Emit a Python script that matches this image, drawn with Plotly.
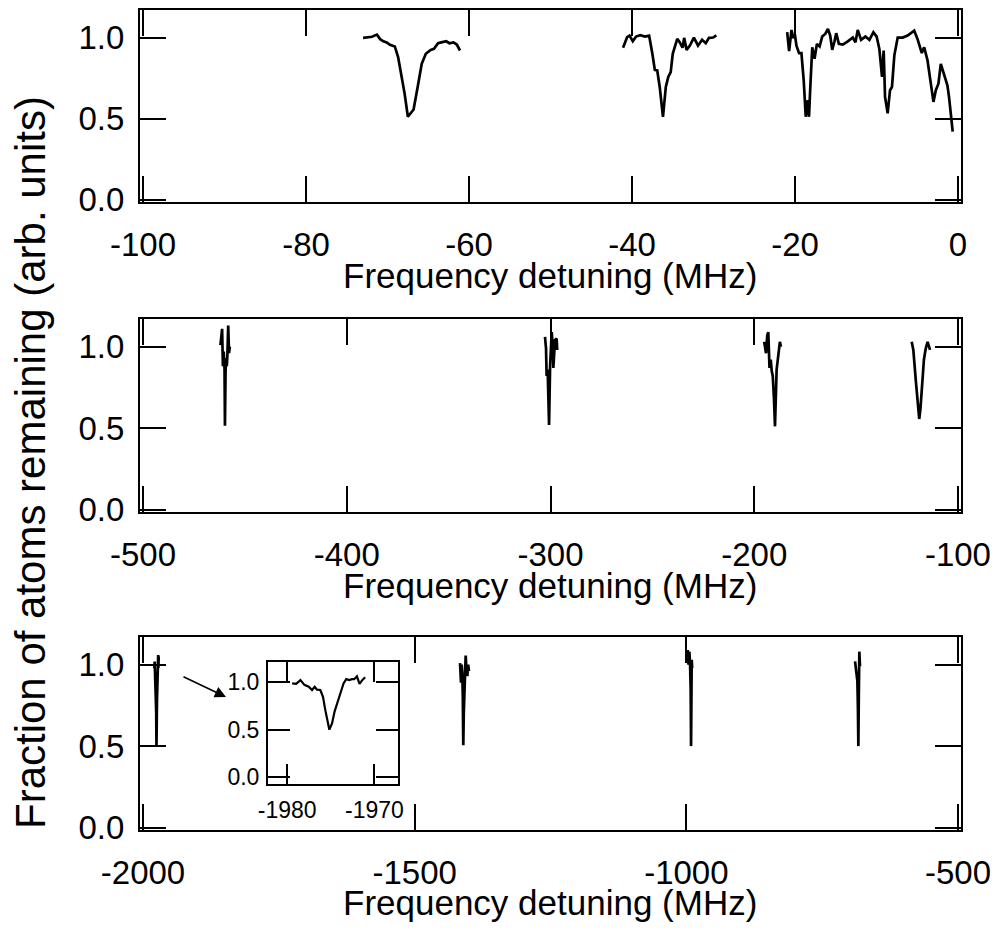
import plotly.graph_objects as go

# ---------------- data ----------------
# Top panel scans (MHz, fraction)
scanA_x = [-73.0, -72.5, -71.9, -71.3, -70.9, -70.5, -70.1, -69.7, -69.1, -68.7, -68.3, -67.9, -67.5,
           -67.1, -66.8, -66.3, -65.8, -65.3, -64.7, -64.3, -63.8, -63.4, -62.8, -62.4, -61.9, -61.5, -61.1]
scanA_y = [0.998, 1.0, 1.005, 1.018, 0.99, 0.977, 0.97, 0.955, 0.945, 0.88, 0.777, 0.654, 0.511,
           0.536, 0.556, 0.695, 0.838, 0.9, 0.924, 0.93, 0.965, 0.97, 0.977, 0.965, 0.97, 0.957, 0.92]

scanB_x = [-41.1, -40.6, -40.3, -39.9, -39.5, -39.0, -38.4, -37.9, -37.5, -37.2, -36.9, -36.6, -36.2,
           -35.85, -35.55, -35.25, -35.0, -34.75, -34.45, -34.15, -33.8, -33.6, -33.3, -32.9, -32.4,
           -31.9, -31.4, -30.95, -30.55, -30.05, -29.65]
scanB_y = [0.937, 1.002, 1.012, 0.977, 1.006, 1.014, 1.006, 1.012, 0.9, 0.80, 0.797, 0.695, 0.511,
           0.695, 0.757, 0.787, 0.9, 0.94, 0.992, 0.971, 0.937, 0.998, 0.924, 0.95, 1.0,
           0.95, 0.986, 0.965, 0.998, 1.0, 1.014]

scanC_x = [-20.96, -20.72, -20.43, -20.23, -20.02, -19.82, -19.5, -19.21, -18.93, -18.68, -18.52, -18.28,
           -18.12, -17.88, -17.6, -17.31, -16.98, -16.66, -16.29, -15.96, -15.68, -15.43, -15.15, -14.94,
           -14.62, -14.13, -13.52, -12.91, -12.58, -12.3, -11.89, -11.36, -10.87, -10.38, -9.98, -9.65,
           -9.32, -9.12, -8.95, -8.63, -8.34, -8.1, -7.81, -7.4, -6.79, -6.18, -5.37, -4.96, -4.44, -4.15,
           -3.74, -3.33, -3.01, -2.72, -2.4, -2.11, -1.71, -1.3, -1.1, -0.89, -0.65]
scanC_y = [1.033, 0.916, 1.047, 0.998, 1.02, 0.95, 0.904, 0.904, 0.736, 0.511, 0.613, 0.511,
           0.695, 0.94, 0.869, 0.961, 0.945, 1.006, 1.022, 1.053, 1.012, 0.924, 0.977, 1.027,
           0.961, 0.957, 0.977, 1.0, 0.971, 1.047, 0.986, 1.006, 0.986, 1.033, 1.006, 0.93,
           0.757, 0.92, 0.634, 0.532, 0.675, 0.695, 0.89, 1.0, 1.0, 1.012, 1.043, 0.99, 0.904, 0.94,
           0.86, 0.715, 0.603, 0.675, 0.715, 0.838, 0.777, 0.705, 0.634, 0.532, 0.419]

# Middle panel scans
scanD_x = [-462.0, -461.6, -461.2, -460.8, -460.4, -460.0, -459.8, -459.5, -459.2, -458.9, -458.6,
           -458.2, -457.8, -457.4]
scanD_y = [1.01, 1.07, 1.11, 0.88, 0.97, 0.86, 0.515, 0.85, 0.93, 0.88, 0.95, 1.13, 0.96, 1.00]

scanE_x = [-302.7, -302.2, -301.9, -301.4, -300.7, -300.2, -299.4, -298.9, -298.6, -297.8, -297.0, -296.7]
scanE_y = [1.06, 0.99, 0.82, 0.86, 0.52, 0.88, 1.09, 1.00, 0.87, 1.04, 1.05, 0.98]

scanF_x = [-195.1, -194.6, -194.2, -193.6, -193.1, -192.5, -191.9, -191.4, -190.9, -190.3, -189.8,
           -189.0, -188.2, -187.4, -186.9]
scanF_y = [1.03, 1.0, 0.96, 1.07, 1.09, 0.87, 0.92, 0.85, 0.82, 0.68, 0.511, 0.86, 0.96, 1.03, 1.0]

scanG_x = [-122.7, -121.9, -120.6, -119.8, -119.0, -118.4, -117.8, -116.7, -115.8, -114.9, -113.7]
scanG_y = [1.03, 0.98, 0.78, 0.64, 0.556, 0.62, 0.72, 0.92, 0.99, 1.03, 0.98]

# Bottom panel scans (scanH is also shown enlarged in the inset)
scanH_x = [-1979.43, -1978.97, -1978.48, -1978.03, -1977.53, -1977.15, -1976.85, -1976.58, -1976.2,
           -1975.9, -1975.63, -1975.37, -1975.17, -1974.86, -1974.57, -1974.22, -1973.92, -1973.54,
           -1973.23, -1972.89, -1972.58, -1972.32, -1972.01, -1971.71, -1971.4, -1971.06]
scanH_y = [0.986, 0.98, 1.02, 0.97, 0.95, 0.916, 0.95, 0.92, 0.916, 0.845, 0.705, 0.565, 0.50,
           0.565, 0.69, 0.79, 0.88, 0.986, 1.03, 1.02, 1.03, 1.03, 1.06, 0.98, 1.02, 1.05]

scanI_x = [-1416.5, -1415.5, -1414.7, -1413.5, -1412.3, -1411.4, -1410.5, -1409.6, -1408.6, -1407.4,
           -1406.1, -1405.0, -1403.1, -1401.5, -1400.0]
scanI_y = [1.01, 0.95, 0.89, 1.0, 0.95, 0.80, 0.506, 0.70, 0.78, 0.95, 1.056, 0.99, 0.93, 1.0, 0.96]

scanJ_x = [-999.3, -997.5, -996.0, -994.5, -993.2, -992.0, -991.3, -990.6, -990.1, -989.3]
scanJ_y = [1.01, 1.09, 1.0, 1.08, 1.01, 0.85, 0.50, 0.80, 1.03, 0.98]

scanK_x = [-689.5, -688.0, -686.4, -685.2, -684.3, -683.4, -682.6, -681.6, -680.4]
scanK_y = [1.02, 0.97, 0.95, 0.90, 0.75, 0.50, 0.80, 1.08, 0.99]

top_ticks = [-100, -80, -60, -40, -20, 0]
top_ticklabels = ["-100", "-80", "-60", "-40", "-20", "0"]
mid_ticks = [-500, -400, -300, -200, -100]
mid_ticklabels = ["-500", "-400", "-300", "-200", "-100"]
bot_ticks = [-2000, -1500, -1000, -500]
bot_ticklabels = ["-2000", "-1500", "-1000", "-500"]
inset_ticks = [-1980, -1970]
inset_ticklabels = ["-1980", "-1970"]
y_ticks = [0.0, 0.5, 1.0]
y_ticklabels = ["0.0", "0.5", "1.0"]

x_title = "Frequency detuning (MHz)"
y_title = "Fraction of atoms remaining (arb. units)"

# ---------------- figure ----------------
W, H = 1004, 937
FONT = "Liberation Sans, Arial, Helvetica, sans-serif"


def dx(p):
    return p / W


def dy(p):
    return 1 - p / H


fig = go.Figure()

panels = [
    ("x", "y", [(scanA_x, scanA_y), (scanB_x, scanB_y), (scanC_x, scanC_y)]),
    ("x2", "y2", [(scanD_x, scanD_y), (scanE_x, scanE_y), (scanF_x, scanF_y), (scanG_x, scanG_y)]),
    ("x3", "y3", [(scanH_x, scanH_y), (scanI_x, scanI_y), (scanJ_x, scanJ_y), (scanK_x, scanK_y)]),
]
for xa, ya, scans in panels:
    for sx, sy in scans:
        fig.add_trace(go.Scatter(x=sx, y=sy, mode="lines", xaxis=xa, yaxis=ya,
                                 line=dict(color="black", width=2.7),
                                 showlegend=False, hoverinfo="skip"))

fig.add_trace(go.Scatter(x=scanH_x, y=scanH_y, mode="lines", xaxis="x4", yaxis="y4",
                         line=dict(color="black", width=2.2),
                         showlegend=False, hoverinfo="skip"))


def axstyle(size=33, ticklen=26, standoff=0):
    return dict(showline=True, linecolor="black", linewidth=2, mirror="ticks",
                ticks="inside", ticklen=ticklen, tickwidth=2, tickcolor="black",
                showgrid=False, zeroline=False, ticklabelstandoff=standoff, automargin=False,
                tickfont=dict(size=size, color="black", family=FONT))


XD = [dx(140), dx(961)]
yrange = [-0.015, 1.17]

layout = dict(
    width=W, height=H, autosize=False,
    margin=dict(l=0, r=0, t=0, b=0, pad=0, autoexpand=False),
    paper_bgcolor="white", plot_bgcolor="white",
    xaxis=dict(domain=XD, range=[-100.37, 0.37], tickvals=top_ticks, ticktext=top_ticklabels,
               anchor="y", **axstyle(standoff=12)),
    yaxis=dict(domain=[dy(202), dy(10)], range=yrange, tickvals=y_ticks, ticktext=y_ticklabels,
               anchor="x", **axstyle(standoff=7)),
    xaxis2=dict(domain=XD, range=[-501.5, -98.5], tickvals=mid_ticks, ticktext=mid_ticklabels,
                anchor="y2", **axstyle(standoff=12)),
    yaxis2=dict(domain=[dy(512), dy(319)], range=yrange, tickvals=y_ticks, ticktext=y_ticklabels,
                anchor="x2", **axstyle(standoff=7)),
    xaxis3=dict(domain=XD, range=[-2005.5, -494.5], tickvals=bot_ticks, ticktext=bot_ticklabels,
                anchor="y3", **axstyle(standoff=12)),
    yaxis3=dict(domain=[dy(830), dy(637)], range=yrange, tickvals=y_ticks, ticktext=y_ticklabels,
                anchor="x3", **axstyle(standoff=7)),
    xaxis4=dict(domain=[dx(268), dx(398)], range=[-1982.2, -1967.3], tickvals=inset_ticks,
                ticktext=inset_ticklabels, anchor="y4",
                **axstyle(size=23, ticklen=20, standoff=4)),
    yaxis4=dict(domain=[dy(784), dy(662)], range=[-0.07, 1.21], tickvals=y_ticks, ticktext=y_ticklabels,
                anchor="x4", **axstyle(size=23, ticklen=22, standoff=2)),
)
fig.update_layout(**layout)

annotations = []
for ypix in (275, 585, 902):
    annotations.append(dict(text=x_title, xref="paper", yref="paper", x=dx(550), y=dy(ypix),
                            xanchor="center", yanchor="middle", showarrow=False,
                            font=dict(size=35, color="black", family=FONT)))
annotations.append(dict(text=y_title, xref="paper", yref="paper", x=dx(30), y=dy(463),
                        xanchor="center", yanchor="middle", showarrow=False, textangle=-90,
                        font=dict(size=42, color="black", family=FONT)))
annotations.append(dict(text="", xref="paper", yref="paper", x=dx(226), y=dy(697),
                        ax=-44, ay=-21, showarrow=True, arrowhead=2, arrowsize=1.4,
                        arrowwidth=1.6, arrowcolor="black"))
fig.update_layout(annotations=annotations)

fig.write_html("out.html")
